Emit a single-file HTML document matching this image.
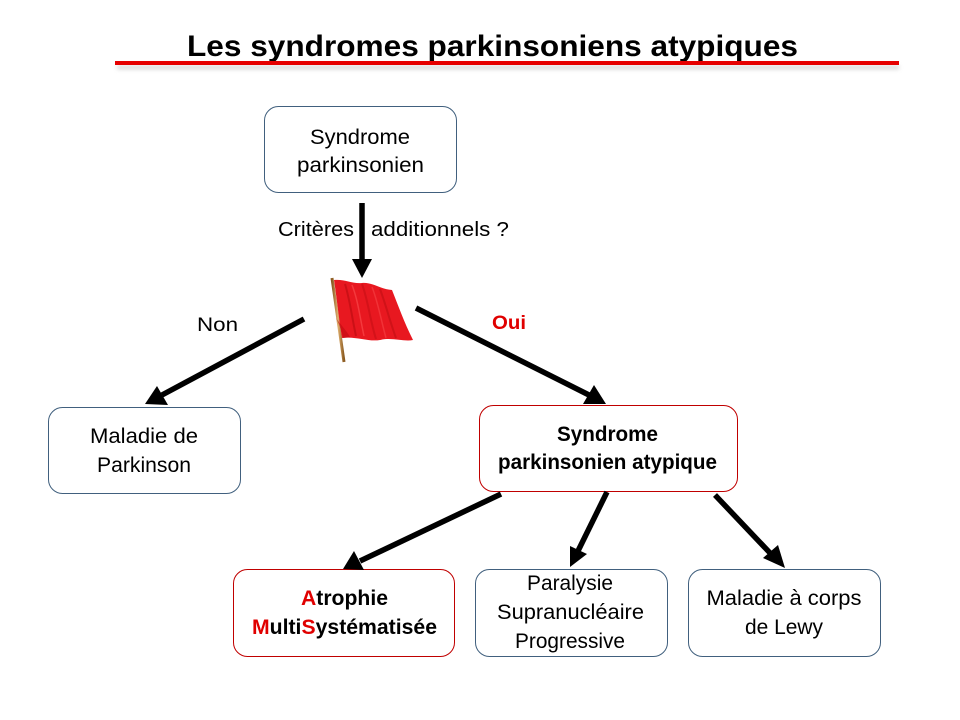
<!DOCTYPE html>
<html>
<head>
<meta charset="utf-8">
<style>
  html, body { margin: 0; padding: 0; background: #ffffff; }
  svg { display: block; }
  text { font-family: "Liberation Sans", Arial, sans-serif; fill: #000; }
</style>
</head>
<body>
<svg width="960" height="720" viewBox="0 0 960 720" xmlns="http://www.w3.org/2000/svg">
  <defs>
    <filter id="blur" x="-5%" y="-200%" width="110%" height="500%">
      <feGaussianBlur stdDeviation="2"/>
    </filter>
    <linearGradient id="pole" x1="0" y1="0" x2="1" y2="0">
      <stop offset="0" stop-color="#8a5a20"/>
      <stop offset="0.5" stop-color="#e0b070"/>
      <stop offset="1" stop-color="#8a5a20"/>
    </linearGradient>
  </defs>

  <!-- Title -->
  <text x="187" y="56" font-size="30" font-weight="bold" textLength="611" lengthAdjust="spacingAndGlyphs">Les syndromes parkinsoniens atypiques</text>
  <rect x="117" y="66" width="782" height="3" fill="#999" opacity="0.5" filter="url(#blur)"/>
  <rect x="115" y="61" width="784" height="4" fill="#e60000"/>

  <!-- Boxes -->
  <rect x="264.5" y="106.5" width="192" height="86" rx="14" fill="#fff" stroke="#41607e" stroke-width="1"/>
  <rect x="48.5" y="407.5" width="192" height="86" rx="14" fill="#fff" stroke="#41607e" stroke-width="1"/>
  <rect x="479.5" y="405.5" width="258" height="86" rx="14" fill="#fff" stroke="#c00000" stroke-width="1"/>
  <rect x="233.5" y="569.5" width="221" height="87" rx="14" fill="#fff" stroke="#c00000" stroke-width="1"/>
  <rect x="475.5" y="569.5" width="192" height="87" rx="14" fill="#fff" stroke="#41607e" stroke-width="1"/>
  <rect x="688.5" y="569.5" width="192" height="87" rx="14" fill="#fff" stroke="#41607e" stroke-width="1"/>

  <!-- Box texts -->
  <g font-size="21" text-anchor="middle">
    <text x="360" y="144" textLength="100" lengthAdjust="spacingAndGlyphs">Syndrome</text>
    <text x="360.5" y="172" textLength="127" lengthAdjust="spacingAndGlyphs">parkinsonien</text>

    <text x="144" y="443" textLength="108" lengthAdjust="spacingAndGlyphs">Maladie de</text>
    <text x="144" y="472" textLength="94" lengthAdjust="spacingAndGlyphs">Parkinson</text>

    <text x="607.5" y="441" font-weight="bold" textLength="101" lengthAdjust="spacingAndGlyphs">Syndrome</text>
    <text x="607.5" y="469" font-weight="bold" textLength="219" lengthAdjust="spacingAndGlyphs">parkinsonien atypique</text>

    <text x="344.5" y="605" font-weight="bold" textLength="87" lengthAdjust="spacingAndGlyphs"><tspan fill="#e00000">A</tspan>trophie</text>
    <text x="344.5" y="634" font-weight="bold" textLength="185" lengthAdjust="spacingAndGlyphs"><tspan fill="#e00000">M</tspan>ulti<tspan fill="#e00000">S</tspan>ystématisée</text>

    <text x="570" y="590" textLength="86" lengthAdjust="spacingAndGlyphs">Paralysie</text>
    <text x="570.5" y="619" textLength="147" lengthAdjust="spacingAndGlyphs">Supranucléaire</text>
    <text x="570" y="648" textLength="110" lengthAdjust="spacingAndGlyphs">Progressive</text>

    <text x="784" y="605" textLength="155" lengthAdjust="spacingAndGlyphs">Maladie à corps</text>
    <text x="784" y="634" textLength="78" lengthAdjust="spacingAndGlyphs">de Lewy</text>
  </g>

  <!-- Connector labels -->
  <text x="278" y="236" font-size="20" textLength="76" lengthAdjust="spacingAndGlyphs">Critères</text>
  <text x="371" y="236" font-size="20" textLength="138" lengthAdjust="spacingAndGlyphs">additionnels ?</text>
  <text x="197" y="331" font-size="19" textLength="41" lengthAdjust="spacingAndGlyphs">Non</text>
  <text x="492" y="329" font-size="19" font-weight="bold" fill="#e00000" style="fill:#e00000" textLength="34" lengthAdjust="spacingAndGlyphs">Oui</text>

  <!-- Arrows -->
  <g stroke="#000" stroke-width="5.5" stroke-linecap="butt">
    <line x1="362" y1="203" x2="362" y2="262"/>
    <line x1="304" y1="319" x2="162" y2="395"/>
    <line x1="416" y1="308" x2="589" y2="395"/>
    <line x1="501" y1="494" x2="360" y2="561"/>
    <line x1="607" y1="492" x2="578" y2="551"/>
    <line x1="715" y1="495" x2="771" y2="554"/>
  </g>
  <g fill="#000">
    <polygon points="362,278 352,259 372,259"/>
    <polygon points="145,404 157,386 168,405"/>
    <polygon points="606,404 583,404 594,385"/>
    <polygon points="343,569 354,551 364,570"/>
    <polygon points="570,567 570,546 587,554"/>
    <polygon points="785,568 763,558 778,545"/>
  </g>

  <!-- Flag -->
  <line x1="332" y1="278" x2="344" y2="362" stroke="url(#pole)" stroke-width="3"/>
  <path d="M334,280 C345,279 352,284 362,283 C372,282 380,289 392,290 C398,305 404,322 413,340 C404,342 392,337 380,340 C368,342 356,336 342,338 C339,320 337,300 334,280 Z" fill="#e81820"/>
  <path d="M345,284 C350,300 352,318 356,336" stroke="#b80c10" stroke-width="2" fill="none" opacity="0.6"/>
  <path d="M362,284 C368,300 370,320 376,339" stroke="#c00c12" stroke-width="2" fill="none" opacity="0.5"/>
  <path d="M380,289 C386,305 390,322 396,338" stroke="#b80c10" stroke-width="2" fill="none" opacity="0.5"/>
  <path d="M352,285 C358,300 360,318 364,336" stroke="#ff5a5a" stroke-width="1.5" fill="none" opacity="0.5"/>
  <path d="M372,287 C378,302 381,320 386,338" stroke="#ff5a5a" stroke-width="1.5" fill="none" opacity="0.4"/>
  <path d="M336,318 C340,326 342,332 343,338 L350,337 C346,330 340,324 336,318 Z" fill="#c00a10" opacity="0.6"/>
</svg>
</body>
</html>
